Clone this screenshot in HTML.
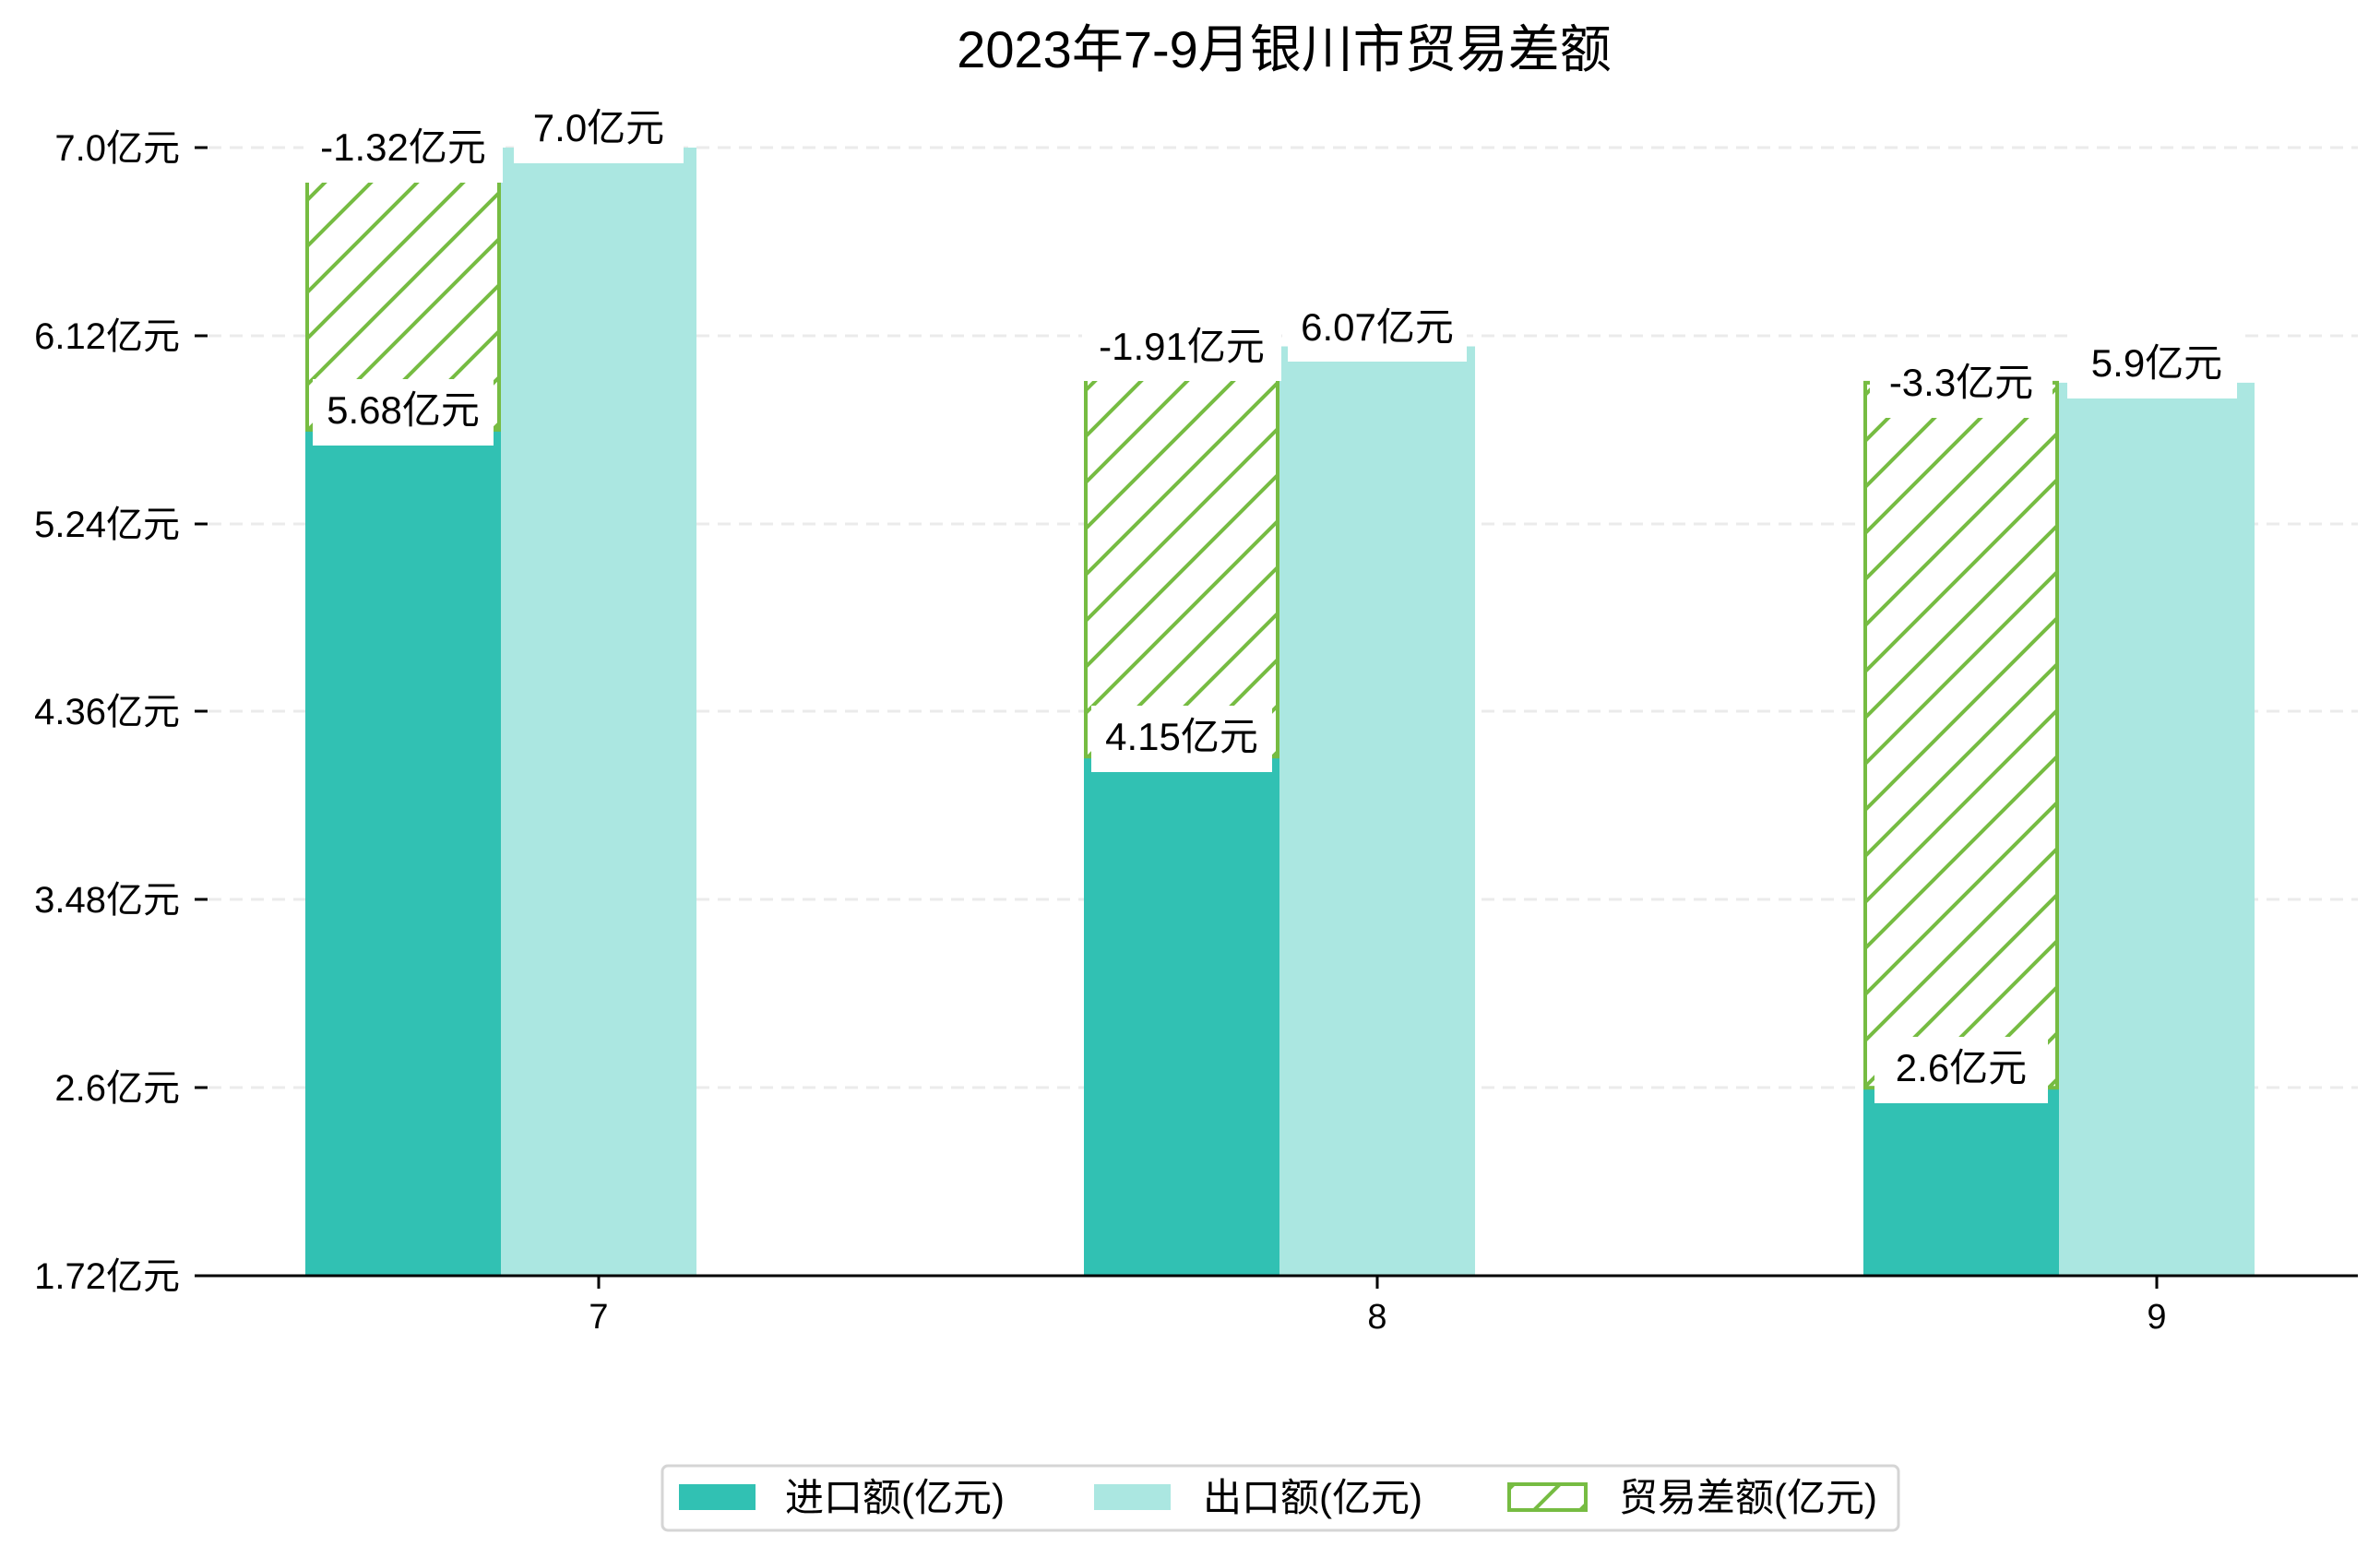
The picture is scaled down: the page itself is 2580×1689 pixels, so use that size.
<!DOCTYPE html>
<html><head><meta charset="utf-8"><style>
html,body{margin:0;padding:0;background:#fff;}
svg{display:block;}
text{font-family:"Liberation Sans","WenQuanYi Zen Hei","Noto Sans CJK SC",sans-serif;fill:#000;}
</style></head><body>
<svg width="2580" height="1689" viewBox="0 0 2580 1689" xmlns="http://www.w3.org/2000/svg">
<defs>
<pattern id="h" patternUnits="userSpaceOnUse" width="50" height="50">
<rect width="50" height="50" fill="#fff"/>
<path d="M-5 55 L55 -5 M-30 30 L30 -30 M20 80 L80 20" stroke="#76bc42" stroke-width="4"/>
</pattern>
</defs>
<rect width="2580" height="1689" fill="#fff"/>
<text x="1392" y="73" font-size="56" text-anchor="middle">2023年7-9月银川市贸易差额</text>
<g stroke="#ebebeb" stroke-width="3" stroke-dasharray="14 9">
<line x1="226" y1="160" x2="2556" y2="160"/>
<line x1="226" y1="364" x2="2556" y2="364"/>
<line x1="226" y1="568" x2="2556" y2="568"/>
<line x1="226" y1="771" x2="2556" y2="771"/>
<line x1="226" y1="975" x2="2556" y2="975"/>
<line x1="226" y1="1179" x2="2556" y2="1179"/>
</g>
<g stroke="#000" stroke-width="3">
<line x1="211" y1="160" x2="225" y2="160"/>
<line x1="211" y1="364" x2="225" y2="364"/>
<line x1="211" y1="568" x2="225" y2="568"/>
<line x1="211" y1="771" x2="225" y2="771"/>
<line x1="211" y1="975" x2="225" y2="975"/>
<line x1="211" y1="1179" x2="225" y2="1179"/>
<line x1="211" y1="1383" x2="225" y2="1383"/>
</g>
<g font-size="40" text-anchor="end">
<text x="195" y="174">7.0亿元</text>
<text x="195" y="378">6.12亿元</text>
<text x="195" y="582">5.24亿元</text>
<text x="195" y="785">4.36亿元</text>
<text x="195" y="989">3.48亿元</text>
<text x="195" y="1193">2.6亿元</text>
<text x="195" y="1397">1.72亿元</text>
</g>
<g fill="#31c1b3">
<rect x="331" y="465.9" width="212" height="917.1"/>
<rect x="1175" y="820.2" width="212" height="562.8"/>
<rect x="2020" y="1179.2" width="212" height="203.8"/>
</g>
<g fill="#abe7e1">
<rect x="543" y="160" width="212" height="1223"/>
<rect x="1387" y="375.5" width="212" height="1007.5"/>
<rect x="2232" y="414.9" width="212" height="968.1"/>
</g>
<g fill="url(#h)" stroke="#76bc42" stroke-width="4">
<rect x="333" y="160" width="208" height="305.9"/>
<rect x="1177" y="375.5" width="208" height="444.7"/>
<rect x="2022" y="414.9" width="208" height="764.3"/>
</g>
<line x1="211" y1="1383" x2="2556" y2="1383" stroke="#000" stroke-width="3"/>
<g stroke="#000" stroke-width="3">
<line x1="649" y1="1383" x2="649" y2="1397"/>
<line x1="1493" y1="1383" x2="1493" y2="1397"/>
<line x1="2338" y1="1383" x2="2338" y2="1397"/>
</g>
<g font-size="38" text-anchor="middle">
<text x="649" y="1440">7</text>
<text x="1493" y="1440">8</text>
<text x="2338" y="1440">9</text>
</g>
<g fill="#fff">
<rect x="339" y="411" width="196" height="72"/>
<rect x="557" y="105" width="184" height="72"/>
<rect x="1183" y="765" width="196" height="72"/>
<rect x="1396" y="320" width="194" height="72"/>
<rect x="2032" y="1124" width="188" height="72"/>
<rect x="2241" y="360" width="184" height="72"/>
<rect x="329" y="126" width="216" height="72"/>
<rect x="1173" y="341" width="216" height="72"/>
<rect x="2027" y="381" width="198" height="72"/>
</g>
<g font-size="42" text-anchor="middle">
<text x="437" y="459">5.68亿元</text>
<text x="649" y="153">7.0亿元</text>
<text x="1281" y="813">4.15亿元</text>
<text x="1493" y="369">6.07亿元</text>
<text x="2126" y="1172">2.6亿元</text>
<text x="2338" y="408">5.9亿元</text>
<text x="437" y="174">-1.32亿元</text>
<text x="1281" y="390">-1.91亿元</text>
<text x="2126" y="429">-3.3亿元</text>
</g>
<rect x="718" y="1589" width="1340" height="70" rx="6" fill="#fff" stroke="#d5d5d5" stroke-width="3"/>
<rect x="736" y="1609" width="83" height="28" fill="#31c1b3"/>
<rect x="1186" y="1609" width="83" height="28" fill="#abe7e1"/>
<rect x="1636" y="1609" width="83" height="28" fill="url(#h)" stroke="#76bc42" stroke-width="4"/>
<g font-size="42">
<text x="851" y="1638">进口额(亿元)</text>
<text x="1304" y="1638">出口额(亿元)</text>
<text x="1755" y="1638">贸易差额(亿元)</text>
</g>
</svg>
</body></html>
